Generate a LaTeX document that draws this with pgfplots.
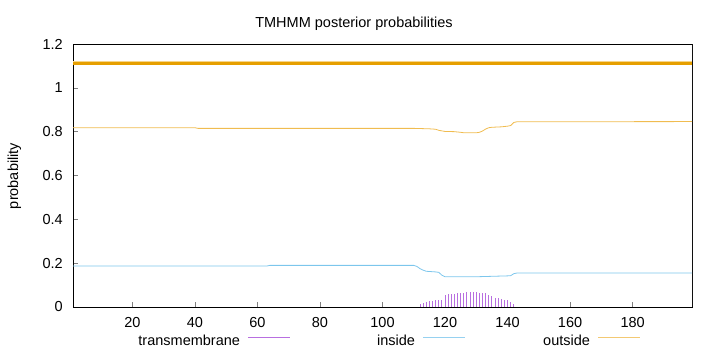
\documentclass[border=0pt]{standalone}
\usepackage{pgfplots}
\pgfplotsset{compat=1.18}
\usepackage{fontspec}
\setmainfont{Liberation Sans}
\definecolor{tmcol}{HTML}{B86FE0}
\definecolor{incol}{HTML}{7CC6EC}
\definecolor{outcol}{HTML}{F0BC50}
\definecolor{topcol}{HTML}{E69F00}
\definecolor{toplight}{HTML}{F6D58A}
\begin{document}
\fontsize{14.5pt}{17pt}\selectfont
\begin{tikzpicture}
\useasboundingbox (0,0) rectangle (720pt,352pt);
\begin{axis}[
  at={(73pt,45pt)}, anchor=south west,
  scale only axis, width=619pt, height=263pt,
  xmin=1, xmax=199, ymin=0, ymax=1.2,
  xtick={20,40,60,80,100,120,140,160,180},
  ytick={0,0.2,0.4,0.6,0.8,1,1.2},
  /pgf/number format/assume math mode=true,
  tick align=inside, xtick pos=lower, ytick pos=left,
  major tick length=5pt,
  tick style={gray, line width=0.6pt},
  axis line style={line width=0.8pt},
  tick label style={font=\fontsize{14.5pt}{17pt}\selectfont},
  yticklabel style={anchor=east, inner sep=0pt, xshift=-10pt},
  xticklabel style={anchor=north, inner sep=0pt, yshift=-10pt},
  legend columns=3,
  legend plot pos=right,
  legend style={draw=none, fill=none, inner sep=0pt, outer sep=0pt,
    at={(0.0759,-0.129)}, anchor=west,
    font=\fontsize{14.5pt}{17pt}\selectfont,
    nodes={inner sep=0pt},
    /tikz/every odd column/.style={column sep=8pt},
    /tikz/every even column/.style={column sep=4pt}},
  legend image code/.code={\draw[#1] (0pt,3pt) -- (42pt,3pt);},
]
% predicted topology line
\addplot[forget plot, toplight, line width=1.2pt] coordinates {(1,1.119) (199,1.119)};
\addplot[forget plot, topcol, line width=2.5pt] coordinates {(1,1.110) (199,1.110)};
% outside
\addplot[forget plot, outcol, line width=0.8pt] table {
x y
1 0.818
40 0.818
41 0.815
110 0.815
115 0.813
117 0.811
118 0.806
120 0.801
123 0.800
125 0.797
126 0.795
130 0.795
131 0.797
132 0.803
133 0.812
134 0.818
135 0.820
138 0.822
140 0.825
141 0.828
142 0.842
143 0.845
199 0.846
};
% inside
\addplot[forget plot, incol, line width=0.8pt] table {
x y
1 0.187
63 0.187
64 0.190
110 0.190
111 0.185
112 0.175
113 0.168
114 0.163
115 0.162
117 0.160
118 0.158
119 0.145
120 0.138
130 0.138
135 0.140
140 0.142
141 0.143
142 0.152
143 0.155
199 0.155
};
% transmembrane
\addplot[forget plot, ycomb, tmcol, line width=0.9pt] table {
x y
112 0.012
113 0.017
114 0.023
115 0.027
116 0.029
117 0.031
118 0.033
119 0.034
120 0.055
121 0.058
122 0.060
123 0.061
124 0.063
125 0.065
126 0.066
127 0.067
128 0.067
129 0.067
130 0.067
131 0.066
132 0.065
133 0.062
134 0.056
135 0.048
136 0.042
137 0.040
138 0.038
139 0.034
140 0.030
141 0.025
142 0.012
};
\addlegendimage{tmcol, line width=1pt}
\addlegendentry{\makebox[120pt][r]{transmembrane}}
\addlegendimage{incol!80!white, line width=1pt}
\addlegendentry{\makebox[120pt][r]{inside}}
\addlegendimage{outcol!80!white, line width=1pt}
\addlegendentry{\makebox[120pt][r]{outside}}
\draw[gray, line width=0.8pt] (rel axis cs:0,0) -- (rel axis cs:1,0) -- (rel axis cs:1,1);
\end{axis}
\node[anchor=base] at (354pt,324pt) {TMHMM posterior probabilities};
\node[rotate=90] at (14.5pt,176pt) {probability};
\end{tikzpicture}
\end{document}
